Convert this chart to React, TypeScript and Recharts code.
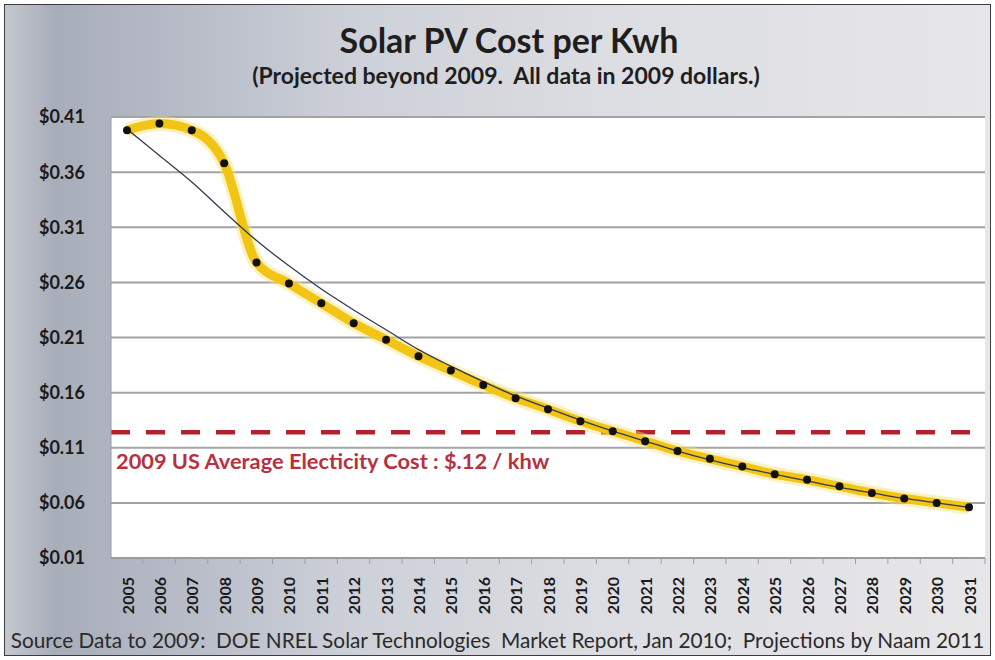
import { LineChart, Line, XAxis, YAxis, CartesianGrid, ReferenceLine } from 'recharts'

const YEARS = [
  '2005', '2006', '2007', '2008', '2009', '2010', '2011', '2012', '2013',
  '2014', '2015', '2016', '2017', '2018', '2019', '2020', '2021', '2022',
  '2023', '2024', '2025', '2026', '2027', '2028', '2029', '2030', '2031',
]

// yellow series: actual to 2009, projected after
const PV_COST = [
  0.398, 0.404, 0.398, 0.368, 0.278, 0.259, 0.241, 0.223, 0.208,
  0.193, 0.18, 0.167, 0.155, 0.145, 0.134, 0.125, 0.116, 0.107,
  0.1, 0.093, 0.086, 0.081, 0.075, 0.069, 0.064, 0.06, 0.056,
]

// thin fitted trend line
const TREND = [
  0.399, 0.375, 0.351, 0.324, 0.298, 0.275, 0.254, 0.235, 0.217,
  0.199, 0.184, 0.17, 0.157, 0.146, 0.135, 0.125, 0.116, 0.107,
  0.099, 0.092, 0.086, 0.08, 0.074, 0.069, 0.064, 0.06, 0.056,
]

const Y_TICKS = [0.01, 0.06, 0.11, 0.16, 0.21, 0.26, 0.31, 0.36, 0.41]

const AVG_COST = 0.124
const AVG_LABEL = '2009 US Average Electicity Cost : $.12 / khw'

const FONT = 'Lato, "Open Sans", sans-serif'

const data = YEARS.map((year, i) => ({ year, cost: PV_COST[i], trend: TREND[i] }))

function YearTick({ x, y, payload }: { x?: number; y?: number; payload?: { value: string } }) {
  if (!payload || x == null || y == null) return null
  return (
    <g>
      <line x1={x + 16} y1={y - 8} x2={x + 16} y2={y - 2} stroke="#a0a0a0" />
      <text
        transform={`translate(${x},${y + 11}) rotate(-90)`}
        textAnchor="end"
        dominantBaseline="central"
        fontFamily={FONT}
        fontWeight={700}
        fontSize={16}
        fill="#1a1a1a"
      >
        {payload.value}
      </text>
    </g>
  )
}

function AvgLabel({ viewBox }: { viewBox?: { x: number; y: number } }) {
  if (!viewBox) return null
  return (
    <text x={viewBox.x + 5} y={viewBox.y + 37} fill="#b8303f" fontFamily={FONT} fontWeight={700} fontSize={21.8}>
      {AVG_LABEL}
    </text>
  )
}

export default function App() {
  return (
    <div
      style={{
        position: 'absolute',
        left: 0,
        top: 0,
        width: 995,
        height: 660,
        background: '#fff',
        fontFamily: FONT,
      }}
    >
      <div
        style={{
          position: 'absolute',
          left: 4,
          top: 4,
          width: 985,
          height: 650,
          border: '1.5px solid #3c3c3c',
          background:
            'linear-gradient(90deg, #c3c7cf 0%, #a8adba 5%, #b3b8c4 15%, #cdd0d8 35%, #dcdde2 60%, #e7e7e9 100%)',
        }}
      />
      <div
        style={{
          position: 'absolute',
          left: 23,
          top: 19,
          width: 972,
          textAlign: 'center',
          fontSize: 34,
          fontWeight: 700,
          color: '#1e1e1e',
        }}
      >
        Solar PV Cost per Kwh
      </div>
      <div
        style={{
          position: 'absolute',
          left: 17,
          top: 61,
          width: 978,
          textAlign: 'center',
          fontSize: 23,
          fontWeight: 700,
          color: '#1e1e1e',
          whiteSpace: 'pre',
        }}
      >
        {'(Projected beyond 2009.  All data in 2009 dollars.)'}
      </div>
      <div style={{ position: 'absolute', left: 0, top: 0 }}>
        <LineChart width={995} height={660} data={data} margin={{ top: 117, right: 10, bottom: 40, left: 0 }}>
          <CartesianGrid horizontal vertical={false} fill="#ffffff" stroke="#a3a3a3" strokeWidth={2} />
          <XAxis
            dataKey="year"
            interval={0}
            height={62}
            padding={{ left: 16, right: 16 }}
            axisLine={{ stroke: '#9a9a9a', strokeWidth: 1.5 }}
            tickLine={false}
            tick={<YearTick />}
          />
          <YAxis
            width={111}
            domain={[0.01, 0.41]}
            ticks={Y_TICKS}
            axisLine={{ stroke: '#9a9a9a' }}
            tickLine={false}
            tickFormatter={(v: number) => `$${v.toFixed(2)}`}
            tick={{ fontFamily: FONT, fontWeight: 700, fontSize: 18, fill: '#1a1a1a' }}
            tickMargin={20}
          />
          <ReferenceLine
            y={AVG_COST}
            stroke="#b3202e"
            strokeWidth={4.5}
            strokeDasharray="19 16"
            label={<AvgLabel />}
          />
          <Line
            dataKey="cost"
            type="monotone"
            stroke="#f7e27a"
            strokeWidth={15}
            strokeOpacity={0.45}
            dot={false}
            activeDot={false}
            isAnimationActive={false}
            legendType="none"
          />
          <Line
            dataKey="cost"
            type="monotone"
            stroke="#f2c414"
            strokeWidth={9}
            dot={{ r: 4, fill: '#111', stroke: 'none' }}
            activeDot={false}
            isAnimationActive={false}
          />
          <Line
            dataKey="trend"
            type="monotone"
            stroke="#343a52"
            strokeWidth={1.3}
            dot={false}
            activeDot={false}
            isAnimationActive={false}
          />
        </LineChart>
      </div>
      <div
        style={{
          position: 'absolute',
          left: 0,
          top: 627,
          width: 995,
          textAlign: 'center',
          fontSize: 20.8,
          color: '#2a2a2a',
          whiteSpace: 'pre',
        }}
      >
        {'Source Data to 2009:  DOE NREL Solar Technologies  Market Report, Jan 2010;  Projections by Naam 2011'}
      </div>
    </div>
  )
}
